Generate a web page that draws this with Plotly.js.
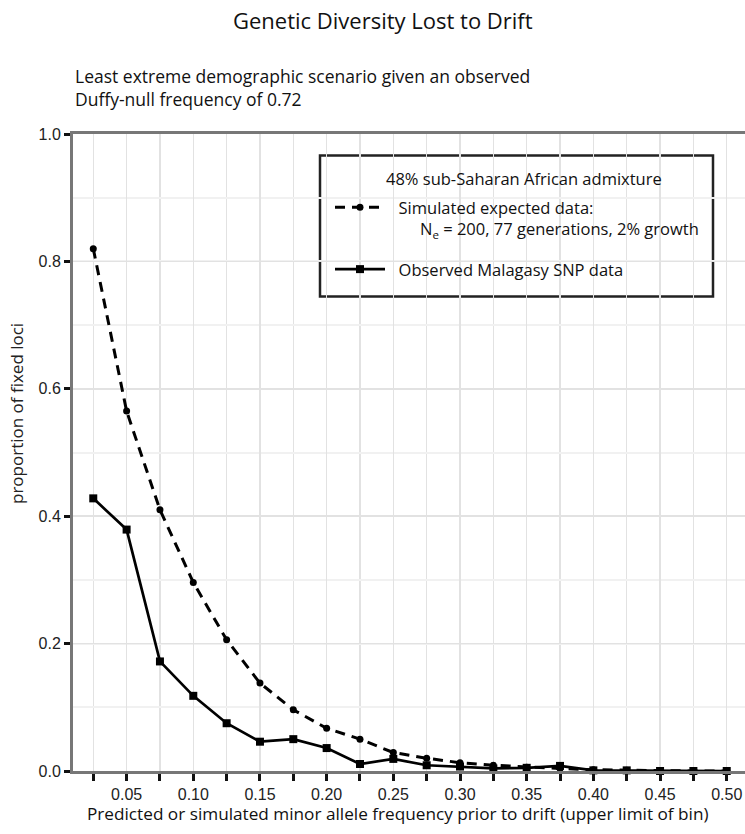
<!DOCTYPE html>
<html>
<head>
<meta charset="utf-8">
<script src="https://cdn.plot.ly/plotly-3.0.1.min.js"></script>
<style>html,body{margin:0;padding:0;background:#fff;}#chart{width:745px;height:834px;}</style>
</head>
<body>
<div id="chart"></div>
<script>
// Bin upper limits (minor allele frequency prior to drift)
const binLimits = [0.025, 0.05, 0.075, 0.10, 0.125, 0.15, 0.175, 0.20, 0.225, 0.25,
                   0.275, 0.30, 0.325, 0.35, 0.375, 0.40, 0.425, 0.45, 0.475, 0.50];
// Simulated expected data: Ne = 200, 77 generations, 2% growth
const simulatedFixed = [0.820, 0.565, 0.410, 0.296, 0.206, 0.138, 0.096, 0.067, 0.050, 0.029,
                        0.020, 0.013, 0.009, 0.006, 0.004, 0.002, 0.001, 0.000, 0.000, 0.000];
// Observed Malagasy SNP data
const observedFixed = [0.428, 0.379, 0.172, 0.118, 0.075, 0.046, 0.050, 0.036, 0.011, 0.019,
                       0.009, 0.007, 0.004, 0.005, 0.008, 0.001, 0.001, 0.000, 0.000, 0.000];
const xTickVals = [0.05, 0.10, 0.15, 0.20, 0.25, 0.30, 0.35, 0.40, 0.45, 0.50];
const xTickText = ["0.05", "0.10", "0.15", "0.20", "0.25", "0.30", "0.35", "0.40", "0.45", "0.50"];
const yTickVals = [0.0, 0.2, 0.4, 0.6, 0.8, 1.0];
const yTickText = ["0.0", "0.2", "0.4", "0.6", "0.8", "1.0"];

const textFont = "'Open Sans', 'Noto Sans', sans-serif";
const tickFont = "'Liberation Sans', Arial, sans-serif";

// pixel helpers for placing non-data decorations (plot area: x 73..745, y 134..771)
const px = v => (v - 73) / 672;
const py = v => (771 - v) / 637;

const traces = [
  {
    x: binLimits, y: simulatedFixed, type: 'scatter', mode: 'lines+markers',
    name: '&nbsp;&nbsp;Simulated expected data:<br>&nbsp;&nbsp;&nbsp;&nbsp;&nbsp;&nbsp;&nbsp;N<sub>e</sub> = 200, 77 generations, 2% growth',
    legendgroup: 'sim',
    line: {color: '#000', width: 3, dash: '10px,7px'},
    marker: {symbol: 'circle', size: 7, color: '#000'},
    cliponaxis: false
  },
  {
    x: binLimits, y: observedFixed, type: 'scatter', mode: 'lines+markers',
    name: '&nbsp;&nbsp;Observed Malagasy SNP data',
    legendgroup: 'obs',
    line: {color: '#000', width: 2.7},
    marker: {symbol: 'square', size: 8, color: '#000'},
    cliponaxis: false
  }
];

const layout = {
  width: 745, height: 834,
  margin: {l: 73, r: 0, t: 134, b: 63, pad: 0},
  paper_bgcolor: '#fff', plot_bgcolor: '#fff',
  showlegend: true,
  xaxis: {
    range: [0.0098, 0.5137],
    tickvals: xTickVals, ticktext: xTickText,
    ticks: 'outside', ticklen: 7, tickwidth: 3, tickcolor: '#111',
    showgrid: true, gridcolor: '#e2e2e2', gridwidth: 1.5,
    minor: {dtick: 0.025, tick0: 0, ticks: 'outside', ticklen: 7, tickwidth: 3, tickcolor: '#111',
            showgrid: true, gridcolor: '#e2e2e2', gridwidth: 1.5},
    showline: true, linecolor: '#777', linewidth: 3, mirror: true,
    zeroline: false,
    tickfont: {family: tickFont, size: 16, color: '#222'},
    fixedrange: true
  },
  yaxis: {
    range: [0, 1],
    tickvals: yTickVals, ticktext: yTickText,
    ticks: 'outside', ticklen: 6, tickwidth: 3, tickcolor: '#111',
    showgrid: true, gridcolor: '#e2e2e2', gridwidth: 1.5,
    minor: {dtick: 0.1, tick0: 0, ticks: '', showgrid: true, gridcolor: '#f1f1f1', gridwidth: 2},
    showline: true, linecolor: '#777', linewidth: 3,
    zeroline: false,
    tickfont: {family: tickFont, size: 16, color: '#222'},
    fixedrange: true
  },
  legend: {
    x: px(330), y: py(190), xanchor: 'left', yanchor: 'top',
    bgcolor: 'rgba(0,0,0,0)', borderwidth: 0,
    font: {family: textFont, size: 16.5, color: '#111'},
    itemwidth: 50, valign: 'top', tracegroupgap: 16
  },
  shapes: [
    {type: 'rect', xref: 'paper', yref: 'paper', layer: 'between',
     x0: px(320), x1: px(713), y0: py(155.5), y1: py(296.5),
     fillcolor: '#fff', line: {color: '#222', width: 2.5}}
  ],
  annotations: [
    {text: 'Genetic Diversity Lost to Drift', xref: 'paper', yref: 'paper',
     x: px(383), y: py(20), xanchor: 'center', yanchor: 'middle', showarrow: false,
     font: {family: textFont, size: 22, color: '#111'}},
    {text: 'Least extreme demographic scenario given an observed<br>Duffy-null frequency of 0.72',
     xref: 'paper', yref: 'paper', x: 0, y: py(62), xanchor: 'left', yanchor: 'top', align: 'left',
     showarrow: false, font: {family: textFont, size: 17.5, color: '#111'}},
    {text: '48% sub-Saharan African admixture', xref: 'paper', yref: 'paper',
     x: px(524), y: py(178), xanchor: 'center', yanchor: 'middle', showarrow: false,
     font: {family: textFont, size: 16.5, color: '#111'}},
    {text: 'proportion of fixed loci', xref: 'paper', yref: 'paper',
     x: px(16), y: py(414), xanchor: 'center', yanchor: 'middle', textangle: -90, showarrow: false,
     font: {family: textFont, size: 17, color: '#222'}},
    {text: 'Predicted or simulated minor allele frequency prior to drift (upper limit of bin)',
     xref: 'paper', yref: 'paper', x: px(398), y: py(813), xanchor: 'center', yanchor: 'middle',
     showarrow: false, font: {family: textFont, size: 17.2, color: '#111'}}
  ]
};

Plotly.newPlot('chart', traces, layout, {displayModeBar: false, staticPlot: true});
</script>
</body>
</html>
